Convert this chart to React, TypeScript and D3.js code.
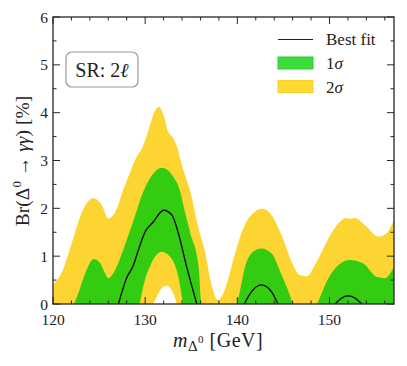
import * as d3 from "d3";

type Pt = [number, number];

// m_Delta0 [GeV], Br [%]
const sigma2Upper: Pt[] = [
  [120, 0.4], [121, 0.68], [122, 1.25], [123, 1.85], [123.7, 2.12], [124.4, 2.21],
  [125.3, 2.07], [126.0, 1.79], [126.9, 1.98], [127.6, 2.38], [128.3, 2.72],
  [128.8, 2.97], [129.8, 3.32], [130.3, 3.6], [131.1, 4.05], [131.5, 4.12],
  [132.0, 3.95], [132.5, 3.6], [132.9, 3.5], [133.4, 3.32], [134.1, 2.83],
  [135.0, 2.28], [135.7, 1.65], [136.5, 1.09], [137.2, 0.4], [137.9, 0.08],
  [138.7, 0.33], [139.7, 1.02], [140.8, 1.65], [141.9, 1.93], [142.7, 1.99],
  [143.7, 1.86], [144.8, 1.44], [145.9, 0.88], [146.8, 0.6], [147.5, 0.58],
  [148.6, 0.88], [149.7, 1.3], [150.8, 1.65], [151.85, 1.8], [152.2, 1.78],
  [152.75, 1.8], [154.0, 1.62], [155.3, 1.41], [156.2, 1.48], [157, 1.76],
];

const sigma1Upper: Pt[] = [
  [120, 0], [122.2, 0], [122.6, 0.15], [123.1, 0.43], [123.8, 0.78], [124.4, 0.94],
  [125.1, 0.86], [125.6, 0.66], [126.0, 0.54], [126.4, 0.6], [126.9, 0.78],
  [128.0, 1.34], [129.1, 1.96], [129.5, 2.2], [130.5, 2.62], [131.8, 2.85],
  [133.05, 2.66], [133.8, 2.35], [134.1, 2.1], [134.9, 1.48], [135.8, 0.78],
  [136.05, 0.1], [136.15, 0], [139.9, 0], [140.2, 0.2], [140.8, 0.75],
  [141.7, 1.09], [142.6, 1.16], [143.7, 1.06], [144.8, 0.61], [145.7, 0.19],
  [146.1, 0], [148.6, 0], [149.0, 0.15], [149.7, 0.47], [150.95, 0.81],
  [152.2, 0.92], [153.65, 0.85], [155.1, 0.57], [156.0, 0.54], [157, 0.78],
];

const sigma1Lower: Pt[] = [
  [129.4, 0], [129.9, 0.45], [130.5, 0.78], [131.8, 1.09], [132.7, 0.99],
  [133.6, 0.57], [134.1, 0],
];

const sigma2Lower: Pt[] = [
  [130.9, 0], [131.8, 0.33], [132.3, 0.38], [133.2, 0.15], [133.4, 0],
];

const bestFitA: Pt[] = [
  [127.1, 0], [128.0, 0.55], [128.7, 0.8], [129.3, 1.15], [130.0, 1.51],
  [130.9, 1.72], [132.0, 1.96], [132.9, 1.86], [133.6, 1.48], [134.5, 0.78], [135.6, 0],
];
const bestFitB: Pt[] = [[140.75, 0], [141.55, 0.26], [142.6, 0.4], [143.7, 0.26], [144.4, 0]];
const bestFitC: Pt[] = [[150.6, 0], [151.3, 0.12], [152.0, 0.17], [152.8, 0.12], [153.5, 0]];

const massMajor = [120, 130, 140, 150];
const massMinor = d3.range(120, 157.01, 2);
const brMajor = [0, 1, 2, 3, 4, 5, 6];
const brMinor = d3.range(0, 6.01, 0.5);

const YELLOW = "#fdd532";
const GREEN = "#33cc11";
const FONT = "'Liberation Serif', 'Times New Roman', serif";

export default function App() {
  const left = 53, right = 394, top = 17, bottom = 304;
  const x = d3.scaleLinear().domain([120, 157]).range([left, right]);
  const y = d3.scaleLinear().domain([0, 6]).range([bottom, top]);

  const area = d3
    .area<Pt>()
    .x(d => x(d[0]))
    .y0(y(0))
    .y1(d => y(Math.max(0, d[1])))
    .curve(d3.curveMonotoneX);
  const line = d3
    .line<Pt>()
    .x(d => x(d[0]))
    .y(d => y(d[1]))
    .curve(d3.curveMonotoneX);

  const axisCol = "#262626";

  return (
    <svg
      width={407}
      height={366}
      style={{ position: "absolute", left: 0, top: 0, fontFamily: FONT }}
    >
      <rect width={407} height={366} fill="#fff" />
      <defs>
        <clipPath id="plot">
          <rect x={left} y={top} width={right - left} height={bottom - top} />
        </clipPath>
      </defs>

      {/* bands */}
      <g clipPath="url(#plot)">
        <path d={area(sigma2Upper) ?? ""} fill={YELLOW} />
        <path d={area(sigma1Upper) ?? ""} fill={GREEN} />
        <path d={area(sigma1Lower) ?? ""} fill={YELLOW} />
        <path d={area(sigma2Lower) ?? ""} fill="#fff" />
        {[bestFitA, bestFitB, bestFitC].map((seg, i) => (
          <path key={i} d={line(seg) ?? ""} fill="none" stroke="#000" strokeWidth={1.3} />
        ))}
      </g>

      {/* ticks, pointing inward on all four sides */}
      <g stroke={axisCol} strokeWidth={1}>
        {massMinor.map(m => {
          const len = massMajor.includes(m) ? 7 : 3.5;
          return (
            <g key={"xm" + m}>
              <line x1={x(m)} x2={x(m)} y1={bottom} y2={bottom - len} />
              <line x1={x(m)} x2={x(m)} y1={top} y2={top + len} />
            </g>
          );
        })}
        {brMinor.map(b => {
          const len = Number.isInteger(b) ? 7 : 3.5;
          return (
            <g key={"ym" + b}>
              <line x1={left} x2={left + len} y1={y(b)} y2={y(b)} />
              <line x1={right} x2={right - len} y1={y(b)} y2={y(b)} />
            </g>
          );
        })}
      </g>
      <rect
        x={left}
        y={top}
        width={right - left}
        height={bottom - top}
        fill="none"
        stroke={axisCol}
        strokeWidth={1.3}
      />

      {/* tick labels */}
      <g fontSize={15.5} fill="#222">
        {massMajor.map(m => (
          <text key={m} x={x(m)} y={325} textAnchor="middle">{m}</text>
        ))}
        {brMajor.map(b => (
          <text key={b} x={48} y={y(b) + 5.5} textAnchor="end">{b}</text>
        ))}
      </g>

      {/* axis titles */}
      <text x={173} y={347} fontSize={20} fill="#222" letterSpacing={0.5}>
        <tspan fontStyle="italic">m</tspan>
        <tspan fontSize={15} dy={4}>Δ</tspan>
        <tspan fontSize={11} dy={-8}>0</tspan>
        <tspan dy={4}> [GeV]</tspan>
      </text>
      <text
        transform="translate(29,161) rotate(-90)"
        textAnchor="middle"
        fontSize={19.5}
        fill="#222"
      >
        <tspan>Br(Δ</tspan>
        <tspan fontSize={13} dy={-8}>0</tspan>
        <tspan dy={8}> → </tspan>
        <tspan fontStyle="italic">γγ</tspan>
        <tspan>) [%]</tspan>
      </text>

      {/* SR box */}
      <rect x={66} y={52} width={72} height={35} rx={6} fill="#fff" stroke="#999" strokeWidth={1.2} />
      <text x={102} y={77} textAnchor="middle" fontSize={20} fill="#222">
        SR: 2<tspan fontStyle="italic">ℓ</tspan>
      </text>

      {/* legend */}
      <g fontSize={17} fill="#222">
        <line x1={278} x2={313} y1={39.5} y2={39.5} stroke="#222" strokeWidth={1.2} />
        <text x={326} y={45}>Best fit</text>
        <rect x={278} y={57} width={35} height={12} fill="#3cdc3c" stroke="#33cc33" />
        <text x={326} y={69}>1<tspan fontStyle="italic">σ</tspan></text>
        <rect x={278} y={80.5} width={35} height={12} fill="#ffd830" stroke="#f5d030" />
        <text x={326} y={92.5}>2<tspan fontStyle="italic">σ</tspan></text>
      </g>
    </svg>
  );
}
